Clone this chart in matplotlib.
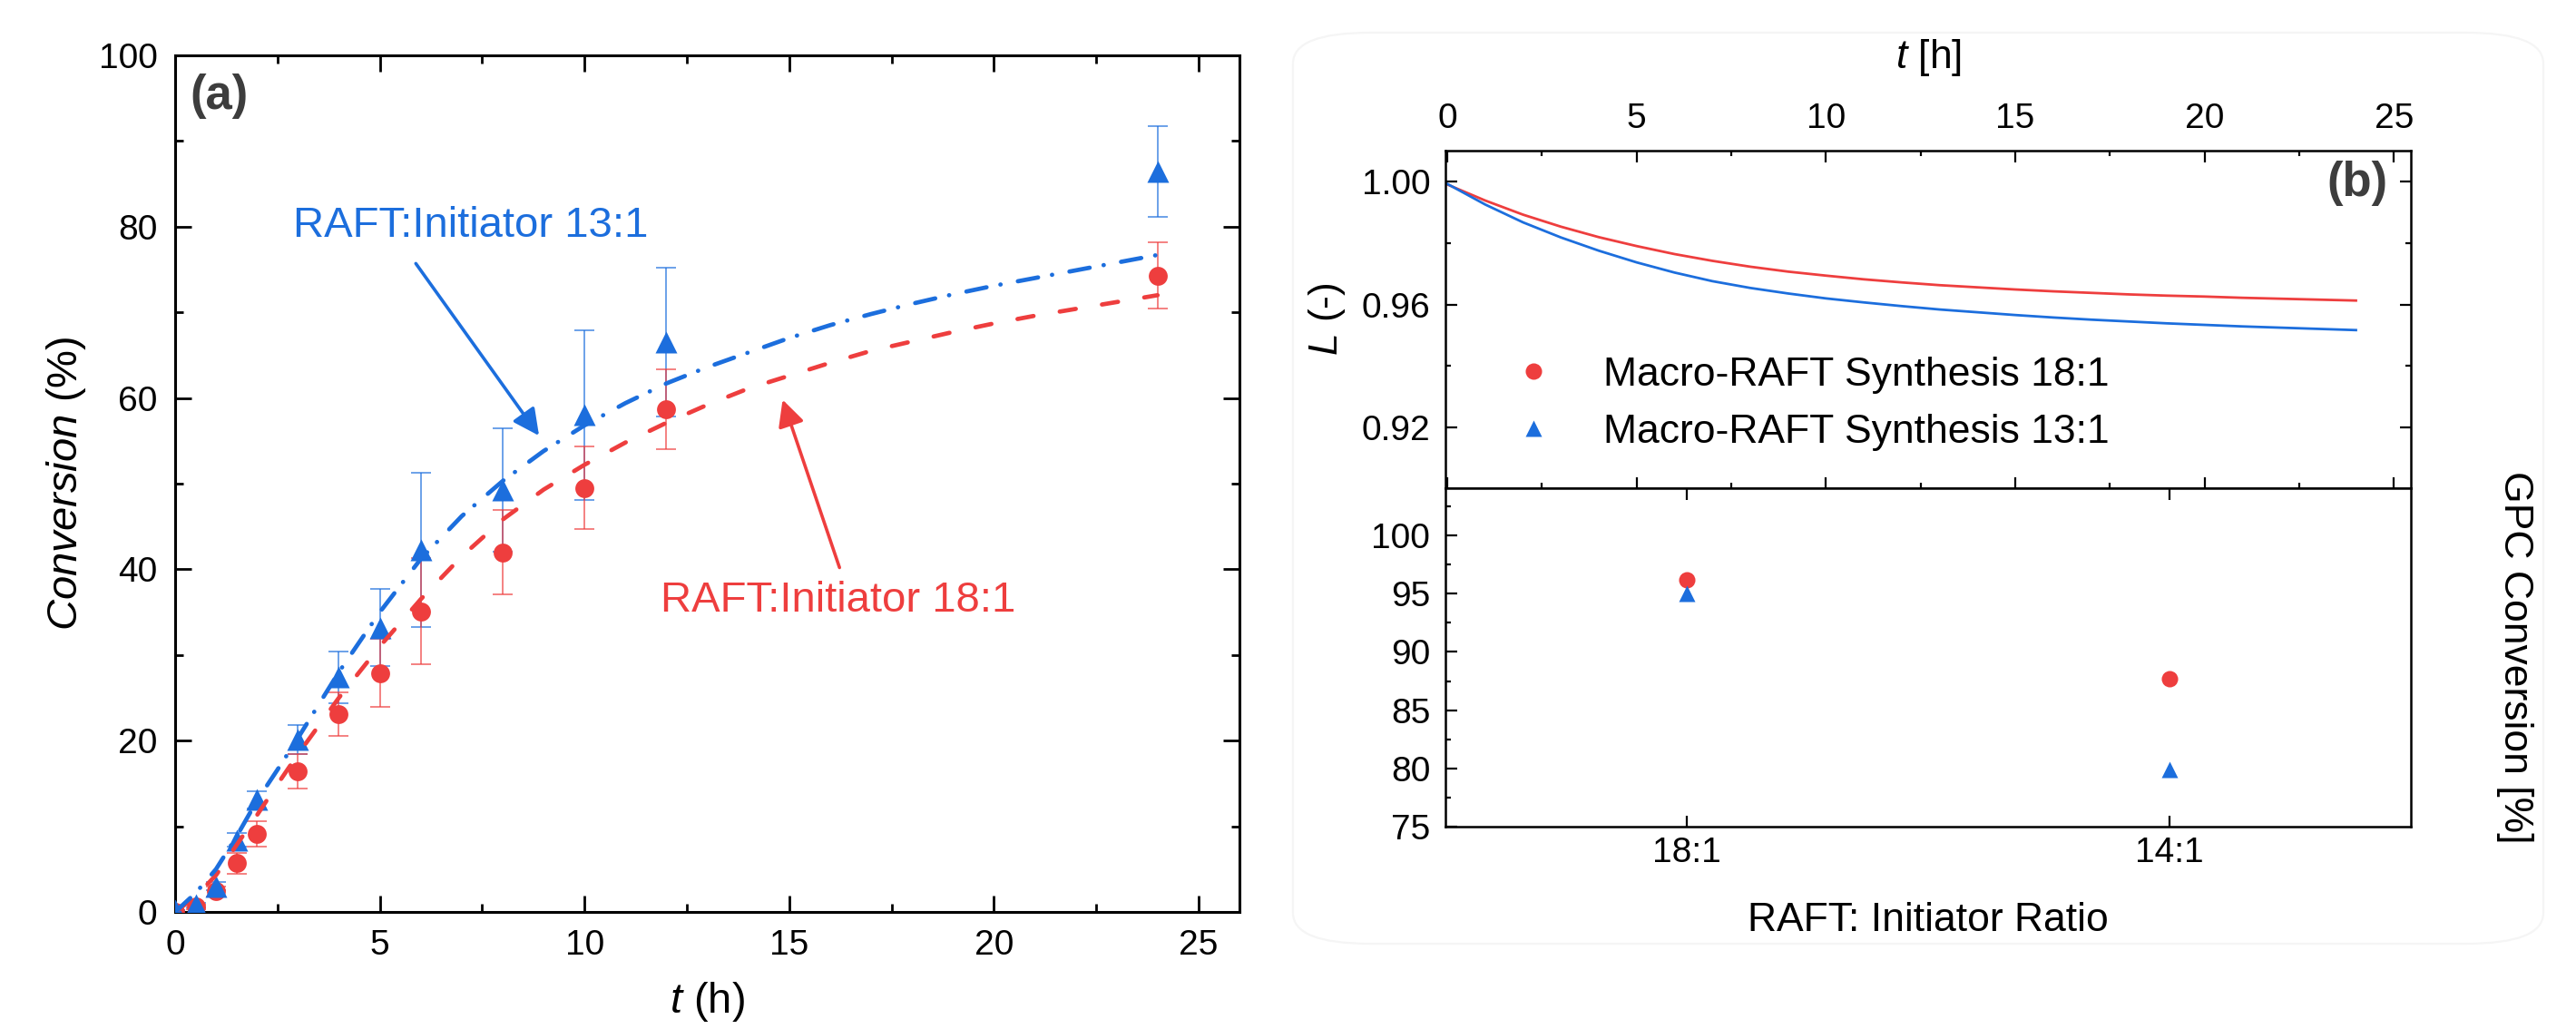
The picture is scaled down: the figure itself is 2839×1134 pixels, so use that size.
import numpy as np
import matplotlib
matplotlib.use("Agg")
from matplotlib import pyplot as plt
from matplotlib.ticker import MultipleLocator, FormatStrFormatter
from matplotlib.patches import FancyBboxPatch

plt.rcParams['font.family'] = ['Liberation Sans', 'DejaVu Sans']
plt.rcParams['mathtext.fontset'] = 'custom'
plt.rcParams['mathtext.rm'] = 'Liberation Sans'
plt.rcParams['mathtext.it'] = 'Liberation Sans:italic'

RED = '#EE3E3E'
BLUE = '#1C6EDD'

# panel (a): measured conversion with error bars
t_exp = [0, 0.5, 1, 1.5, 2, 3, 4, 5, 6, 8, 10, 12, 24]
conv_18 = [0, 0.6, 2.4, 5.7, 9.1, 16.4, 23.1, 27.9, 35.1, 42.0, 49.5, 58.7, 74.3]
err_18 = [0, 0.3, 0.6, 1.2, 1.5, 2.0, 2.5, 4.0, 6.2, 4.9, 4.8, 4.7, 3.9]
conv_13 = [0.2, 0.8, 3.0, 8.4, 13.1, 20.1, 27.4, 33.2, 42.3, 49.3, 58.0, 66.5, 86.4]
err_13 = [0, 0.3, 0.5, 0.8, 1.0, 1.7, 3.0, 4.5, 9.0, 7.2, 9.9, 8.7, 5.3]

# panel (a): model curves
t_fit = [0, 0.5, 1, 1.5, 2, 2.5, 3, 4, 5, 6, 7, 8, 9, 10, 11, 12, 13, 14,
         15, 16, 17, 18, 19, 20, 21, 22, 23, 24]
fit_18 = [0, 1.8, 4.3, 7.8, 11.3, 14.9, 18.4, 25.0, 31.0, 36.5, 41.5, 45.8, 49.3,
          52.2, 54.8, 57.1, 59.2, 61.1, 62.6, 64.1, 65.5, 66.6, 67.7, 68.7,
          69.6, 70.4, 71.2, 72.0]
fit_13 = [0, 2.2, 5.0, 8.8, 13.0, 16.6, 20.3, 28.0, 35.0, 41.2, 46.2, 50.3, 53.8,
          56.8, 59.4, 61.7, 63.6, 65.3, 67.0, 68.5, 69.8, 71.0, 72.1, 73.1,
          74.0, 74.9, 75.8, 76.7]

# panel (b) top: L(t)
t_L = [0, 1, 2, 3, 4, 5, 6, 7, 8, 9, 10, 11, 12, 13, 14, 15, 16, 17, 18, 19,
       20, 21, 22, 23, 24]
L_18 = [0.9990, 0.9938, 0.9892, 0.9853, 0.9819, 0.9790, 0.9764, 0.9742, 0.9723,
        0.9707, 0.9694, 0.9682, 0.9672, 0.9663, 0.9656, 0.9649, 0.9643, 0.9638,
        0.9633, 0.9629, 0.9626, 0.9622, 0.9619, 0.9616, 0.9613]
L_13 = [0.9992, 0.9925, 0.9867, 0.9818, 0.9775, 0.9737, 0.9704, 0.9676, 0.9654,
        0.9636, 0.9620, 0.9607, 0.9595, 0.9584, 0.9575, 0.9566, 0.9558, 0.9551,
        0.9545, 0.9539, 0.9534, 0.9529, 0.9525, 0.9521, 0.9517]

# panel (b) bottom: GPC conversion
ratios = ['18:1', '14:1']
gpc_18 = [96.2, 87.7]
gpc_13 = [95.0, 79.9]

W, H = 2839, 1134
fig = plt.figure(figsize=(W / 200, H / 200), dpi=200)

def rect(x0, y0, x1, y1):
    return [x0 / W, 1 - y1 / H, (x1 - x0) / W, (y1 - y0) / H]

# faint rounded frame around (b)
fig.patches.append(FancyBboxPatch((1425 / W, 1 - 1040 / H), (2803 - 1425) / W, (1040 - 36) / H,
                                  boxstyle='round,pad=0,rounding_size=0.03',
                                  transform=fig.transFigure, fill=False,
                                  edgecolor='#f5f5f5', linewidth=0.8))

# ---------------- panel (a)
ax = fig.add_axes(rect(193, 61, 1366, 1005))
ax.errorbar(t_exp, conv_13, yerr=err_13, fmt='none', ecolor=BLUE, elinewidth=0.7,
            capsize=3.8, capthick=0.7, alpha=0.65, zorder=2)
ax.errorbar(t_exp, conv_18, yerr=err_18, fmt='none', ecolor=RED, elinewidth=0.7,
            capsize=3.8, capthick=0.7, alpha=0.65, zorder=2)
ax.plot(t_exp, conv_18, 'o', color=RED, ms=7.5, mec='none', zorder=3)
ax.plot(t_exp, conv_13, '^', color=BLUE, ms=8.5, mec='none', zorder=3)
l1, = ax.plot(t_fit, fit_18, color=RED, lw=1.7, zorder=4, dash_capstyle='round')
l1.set_dashes([3.8, 6.2])
l2, = ax.plot(t_fit, fit_13, color=BLUE, lw=1.7, zorder=4, dash_capstyle='round')
l2.set_dashes([4.8, 3.3, 0.05, 4.1])

ax.set_xlim(0, 26)
ax.set_ylim(0, 100)
ax.xaxis.set_major_locator(MultipleLocator(5))
ax.xaxis.set_minor_locator(MultipleLocator(2.5))
ax.yaxis.set_major_locator(MultipleLocator(20))
ax.yaxis.set_minor_locator(MultipleLocator(10))
ax.tick_params(which='both', direction='in', top=True, right=True, labelsize=14)
ax.tick_params(which='major', length=6.5, width=1.0, pad=7)
ax.tick_params(which='minor', length=3.2, width=1.0)
for s in ax.spines.values():
    s.set_linewidth(1.1)

ax.set_ylabel(r'$\mathit{Conversion}$ (%)', fontsize=17, va='center', ha='center')
ax.yaxis.set_label_coords(-0.1023, 0.5)
ax.set_xlabel(r'$\mathit{t}$ (h)', fontsize=17, va='center', ha='center')
ax.xaxis.set_label_coords(0.5, -0.1045)

ax.text(0.041, 0.952, '(a)', transform=ax.transAxes, fontsize=19, fontweight='bold',
        color='#3d3d3d', ha='center', va='center')

ax.annotate('', xy=(8.89, 55.6), xytext=(5.88, 75.7),
            arrowprops=dict(arrowstyle='-|>', color=BLUE, lw=1.3, mutation_scale=22,
                            shrinkA=0, shrinkB=0))
ax.text(7.23, 80.1, 'RAFT:Initiator 13:1', color=BLUE, fontsize=17,
        ha='center', va='center')
ax.annotate('', xy=(14.84, 59.8), xytext=(16.23, 40.2),
            arrowprops=dict(arrowstyle='-|>', color=RED, lw=1.3, mutation_scale=22,
                            shrinkA=0, shrinkB=0))
ax.text(16.2, 36.3, 'RAFT:Initiator 18:1', color=RED, fontsize=17,
        ha='center', va='center')

# ---------------- panel (b) top
bt = fig.add_axes(rect(1593, 166, 2657, 537.5))
bt.plot(t_L, L_18, color=RED, lw=1.0)
bt.plot(t_L, L_13, color=BLUE, lw=1.0)
bt.plot([], [], 'o', color=RED, ms=6.5, mec='none', label='Macro-RAFT Synthesis 18:1')
bt.plot([], [], '^', color=BLUE, ms=6.5, mec='none', label='Macro-RAFT Synthesis 13:1')
bt.set_xlim(-0.05, 25.45)
bt.set_ylim(0.9005, 1.010)
bt.xaxis.set_major_locator(MultipleLocator(5))
bt.xaxis.set_minor_locator(MultipleLocator(2.5))
bt.yaxis.set_major_locator(MultipleLocator(0.04))
bt.yaxis.set_minor_locator(MultipleLocator(0.02))
bt.yaxis.set_major_formatter(FormatStrFormatter('%.2f'))
bt.tick_params(which='both', direction='in', top=True, bottom=True, right=True,
               labeltop=True, labelbottom=False, labelsize=14, pad=6)
bt.tick_params(which='major', length=4.5, width=0.8)
bt.tick_params(which='minor', length=2.2, width=0.8)
for s in bt.spines.values():
    s.set_linewidth(0.9)
bt.set_xlabel(r'$\mathit{t}$ [h]', fontsize=16, va='center', ha='center')
bt.xaxis.set_label_position('top')
bt.xaxis.set_label_coords(0.5, 1.245)
bt.set_ylabel(r'$\mathit{L}$ (-)', fontsize=16, va='center', ha='center')
bt.yaxis.set_label_coords(-0.123, 0.5)
bt.text(0.9445, 0.903, '(b)', transform=bt.transAxes, fontsize=19, fontweight='bold',
        color='#3d3d3d', ha='center', va='center')
bt.legend(loc='center left', bbox_to_anchor=(0.07, 0.25), frameon=False, fontsize=16,
          borderpad=0, borderaxespad=0, handlelength=1.0, handletextpad=1.25,
          labelspacing=0.5, numpoints=1)

# ---------------- panel (b) bottom
bb = fig.add_axes(rect(1593, 537.5, 2657, 911))
xpos = np.arange(len(ratios))
bb.plot(xpos, gpc_18, 'o', color=RED, ms=6.5, mec='none')
bb.plot(xpos, gpc_13, '^', color=BLUE, ms=6.5, mec='none')
bb.set_xlim(-0.5, 1.5)
bb.set_ylim(75, 104.1)
bb.set_xticks(xpos)
bb.set_xticklabels(ratios)
bb.yaxis.set_major_locator(MultipleLocator(5))
bb.yaxis.set_minor_locator(MultipleLocator(2.5))
bb.tick_params(which='both', direction='in', top=True, bottom=True, left=True, right=True,
               labelleft=True, labelright=True, labelsize=14, pad=6)
bb.tick_params(axis='x', pad=4)
bb.tick_params(which='major', length=4.5, width=0.8)
bb.tick_params(which='minor', length=2.2, width=0.8)
for s in bb.spines.values():
    s.set_linewidth(0.9)
bb.set_xlabel('RAFT: Initiator Ratio', fontsize=16, va='center', ha='center')
bb.xaxis.set_label_coords(0.5, -0.276)
rax = bb.twinx()
rax.set_yticks([])
rax.set_ylabel('GPC Conversion [%]', fontsize=16, rotation=-90, va='center', ha='center')
rax.yaxis.set_label_coords(1.108, 0.5)
for s in rax.spines.values():
    s.set_visible(False)

fig.savefig('out.png', dpi=200)
